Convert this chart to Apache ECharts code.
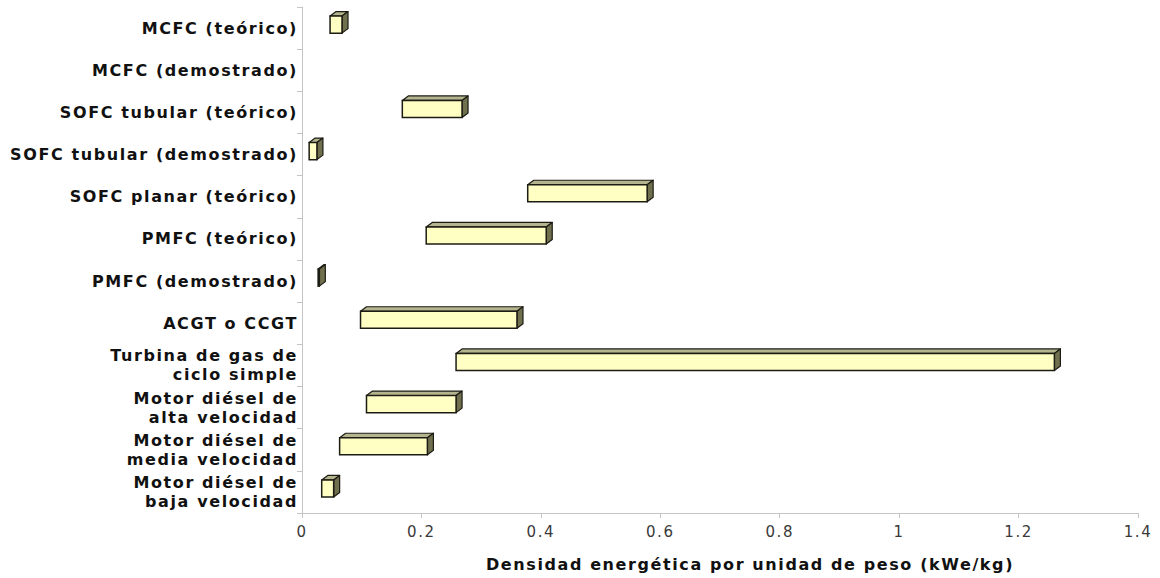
<!DOCTYPE html>
<html>
<head>
<meta charset="utf-8">
<script src="https://cdn.jsdelivr.net/npm/echarts@6/dist/echarts.min.js"></script>
<style>
  html, body { margin: 0; padding: 0; background: #fff; }
  #chart { width: 1160px; height: 578px; }
  #chart text { letter-spacing: 1.6px; }
</style>
</head>
<body>
<div id="chart"></div>
<script>
// Technologies, listed top to bottom
const categories = [
  'MCFC (teórico)',
  'MCFC (demostrado)',
  'SOFC tubular (teórico)',
  'SOFC tubular (demostrado)',
  'SOFC planar (teórico)',
  'PMFC (teórico)',
  'PMFC (demostrado)',
  'ACGT o CCGT',
  'Turbina de gas de\nciclo simple',
  'Motor diésel de\nalta velocidad',
  'Motor diésel de\nmedia velocidad',
  'Motor diésel de\nbaja velocidad'
];

// Range of power density per unit weight (kWe/kg): low and high end
const rangeLow  = [0.047, null, 0.168, 0.012, 0.378, 0.208, 0.027, 0.098, 0.258, 0.108, 0.063, 0.033];
const rangeHigh = [0.067, null, 0.268, 0.025, 0.578, 0.409, 0.029, 0.360, 1.260, 0.258, 0.210, 0.053];

const xTicks = { min: 0, max: 1.4, interval: 0.2 };
const axisTitle = 'Densidad energética por unidad de peso (kWe/kg)';

const rows = [];
categories.forEach((c, i) => {
  if (rangeLow[i] != null) rows.push([rangeLow[i], rangeHigh[i], i]);
});

// Floating bar drawn as a small box: front face, top face and right side
function renderBox(params, api) {
  const a = api.coord([api.value(0), api.value(2)]);
  const b = api.coord([api.value(1), api.value(2)]);
  const band = api.size([0, 1])[1];
  const c = a[1];
  const yTop = c - band * 0.285;
  const yBot = c + band * 0.12;
  const x0 = a[0], x1 = b[0];
  const dx = 6, dy = 4.5;
  const stroke = '#1c1c14';
  return {
    type: 'group',
    children: [
      {
        type: 'polygon',
        shape: { points: [[x0, yTop], [x0 + dx, yTop - dy], [x1 + dx, yTop - dy], [x1, yTop]] },
        style: { fill: '#b4b48e', stroke: stroke, lineWidth: 1.2, lineJoin: 'round' }
      },
      {
        type: 'polygon',
        shape: { points: [[x1, yTop], [x1 + dx, yTop - dy], [x1 + dx, yBot - dy], [x1, yBot]] },
        style: { fill: '#70704f', stroke: stroke, lineWidth: 1.2, lineJoin: 'round' }
      },
      {
        type: 'rect',
        shape: { x: x0, y: yTop, width: Math.max(x1 - x0, 0.5), height: yBot - yTop },
        style: { fill: '#ffffc4', stroke: stroke, lineWidth: 1.5 }
      }
    ]
  };
}

const chart = echarts.init(document.getElementById('chart'), null, { renderer: 'svg' });
chart.setOption({
  animation: false,
  backgroundColor: '#ffffff',
  grid: { left: 302, right: 22, top: 7, bottom: 65, containLabel: false },
  xAxis: {
    type: 'value',
    min: xTicks.min,
    max: xTicks.max,
    interval: xTicks.interval,
    splitLine: { show: false },
    axisLine: { show: true, lineStyle: { color: '#c4c4c4', width: 1 } },
    axisTick: { show: true, length: 5, lineStyle: { color: '#c4c4c4' } },
    axisLabel: {
      color: '#3a3a3a', fontSize: 15, fontFamily: 'DejaVu Sans', margin: 11,
      formatter: v => String(Math.round(v * 10) / 10)
    },
    name: axisTitle,
    nameLocation: 'middle',
    nameGap: 43,
    nameTextStyle: {
      color: '#111', fontSize: 16, fontWeight: 'bold', fontFamily: 'DejaVu Sans',
      padding: [0, 0, 0, 60]
    }
  },
  yAxis: {
    type: 'category',
    data: categories,
    inverse: true,
    axisLine: { show: true, lineStyle: { color: '#c4c4c4', width: 1 } },
    axisTick: { show: true, length: 5, lineStyle: { color: '#c4c4c4' } },
    axisLabel: {
      color: '#111', fontSize: 16, fontWeight: 'bold', fontFamily: 'DejaVu Sans',
      margin: 4, lineHeight: 19, interval: 0
    },
    splitLine: { show: false }
  },
  series: [{
    type: 'custom',
    renderItem: renderBox,
    encode: { x: [0, 1], y: 2 },
    data: rows,
    clip: false
  }]
});
</script>
</body>
</html>
